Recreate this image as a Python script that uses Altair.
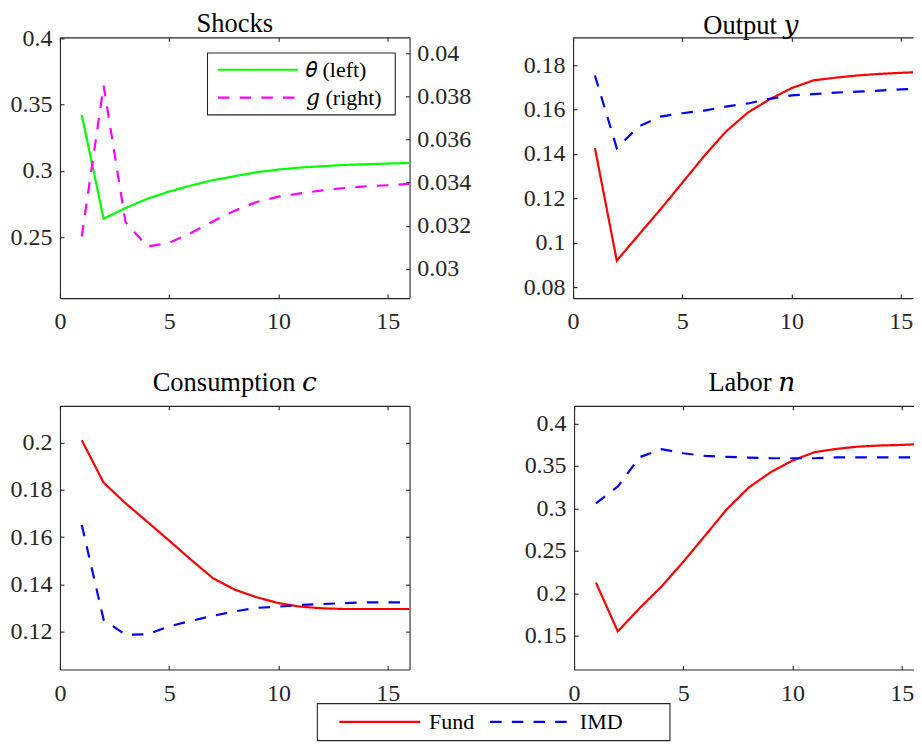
import altair as alt
import pandas as pd

# ---------------- data ----------------
periods = list(range(1, 17))

theta_shock = [0.342, 0.264, 0.272, 0.279, 0.2845, 0.289, 0.293, 0.296,
               0.299, 0.301, 0.3025, 0.3035, 0.3045, 0.305, 0.3055, 0.306]
g_shock = [0.0315, 0.0385, 0.03217, 0.03104, 0.0312, 0.03166, 0.0322, 0.0327,
           0.0331, 0.03335, 0.0335, 0.03364, 0.03375, 0.03383, 0.03388, 0.03394]

output_fund = [0.1426, 0.0919, 0.1035, 0.115, 0.127, 0.139, 0.1501, 0.1586,
               0.1646, 0.1696, 0.1731, 0.1743, 0.1753, 0.1760, 0.1765, 0.1769]
output_imd = [0.1753, 0.1426, 0.1523, 0.1568, 0.1583, 0.1595, 0.1613, 0.1627,
              0.1648, 0.1663, 0.1669, 0.1676, 0.1680, 0.1685, 0.1690, 0.1696]

cons_fund = [0.2011, 0.1831, 0.1744, 0.1665, 0.1585, 0.1504, 0.1426, 0.1377,
             0.1345, 0.1320, 0.1305, 0.1298, 0.1295, 0.1295, 0.1295, 0.1295]
cons_imd = [0.1651, 0.1249, 0.1186, 0.1188, 0.1221, 0.1245, 0.1266, 0.1285,
            0.1300, 0.1305, 0.1312, 0.1316, 0.1320, 0.1323, 0.1323, 0.1323]

labor_fund = [0.2125, 0.155, 0.1824, 0.2078, 0.237, 0.268, 0.2992, 0.3246,
              0.3426, 0.3563, 0.3661, 0.3700, 0.3727, 0.3740, 0.3747, 0.3758]
labor_imd = [0.3059, 0.3256, 0.3602, 0.3696, 0.3649, 0.3617, 0.3606, 0.3598,
             0.3590, 0.3590, 0.3590, 0.3600, 0.3600, 0.3600, 0.3600, 0.3600]

shock_labels = ["\U0001D703 (left)", "\U0001D454 (right)"]
series_labels = ["Fund", "IMD"]
panel_titles = ["Shocks", "Output \U0001D466", "Consumption \U0001D450", "Labor \U0001D45B"]

x_ticks = [0, 5, 10, 15]
theta_ticks = [0.25, 0.3, 0.35, 0.4]
g_ticks = [0.03, 0.032, 0.034, 0.036, 0.038, 0.04]
output_ticks = [0.08, 0.1, 0.12, 0.14, 0.16, 0.18]
cons_ticks = [0.12, 0.14, 0.16, 0.18, 0.2]
labor_ticks = [0.15, 0.2, 0.25, 0.3, 0.35, 0.4]

# ---------------- style / layout ----------------
FONT = "Liberation Serif, DejaVu Serif"
AX = "#262626"
W = 350
H1, H2 = 261, 264
W_R = 340.3                    # right column is cut by the window edge
X_MAX_R = 16 * W_R / W
LW = 2.2
DASH = [11.5, 10.2]
SP_V = 8.9
E1, E2 = 62.4, 36
DX_R = 7.85


def frame(a, b, names):
    return pd.DataFrame({"period": periods + periods, "value": a + b,
                         "series": [names[0]] * len(a) + [names[1]] * len(b)})


def one(a, name):
    return pd.DataFrame({"period": periods, "value": a, "series": [name] * len(a)})


def lab_axis(orient, values, extent, pad):
    return alt.Axis(orient=orient, values=values, format="~g", ticks=False, tickSize=0,
                    domain=True, domainColor=AX, domainWidth=1.1, labels=True,
                    labelFont=FONT, labelFontSize=24, labelColor=AX, labelPadding=pad,
                    labelFlush=False, labelOverlap=False, labelBound=False,
                    minExtent=extent, maxExtent=extent, grid=False, title=None)


def tick_axis(orient, values, offset, domain=False):
    return alt.Axis(orient=orient, values=values, offset=offset, labels=False,
                    ticks=True, tickSize=4, tickColor=AX, tickWidth=1.1,
                    domain=domain, domainColor=AX, domainWidth=1.1, grid=False,
                    title=None, minExtent=0, maxExtent=0)


def title(text, off, dx=0):
    return alt.TitleParams(text, font=FONT, fontSize=26.5, fontWeight="normal",
                           color="black", anchor="middle", frame="group",
                           baseline="top", offset=off, dx=dx)


bottom_legend = alt.Legend(title=" ", titleOrient="right", titlePadding=40,
                           titleFontSize=22, titleFont=FONT,
                           orient="none", legendX=257.3, legendY=666.6,
                           direction="horizontal", padding=7, strokeColor=AX,
                           fillColor="white", symbolType="M-4,0H4", symbolSize=410,
                           symbolStrokeWidth=LW, symbolOffset=44.4, labelOffset=37.75,
                           columnPadding=0,
                           labelFont=FONT, labelFontSize=22, labelColor="black",
                           symbolOpacity=1, labelLimit=0)


def std_panel(df, ydom, yticks, ttl, width, height, xmax, right_col, ext_x, off, legend):
    xs = alt.Scale(domain=[0, xmax], nice=False, zero=False)
    ys = alt.Scale(domain=ydom, nice=False, zero=False)
    color = alt.Color("series:N", scale=alt.Scale(domain=series_labels,
                      range=["#ff0000", "#0000ff"]), legend=legend)
    dash = alt.StrokeDash("series:N", scale=alt.Scale(domain=series_labels,
                          range=[[1, 0], DASH]), legend=legend)
    base = alt.Chart(df)
    l1 = base.mark_line(strokeWidth=LW, clip=True).encode(
        x=alt.X("period:Q", scale=xs, axis=lab_axis("bottom", x_ticks, ext_x, 11.5)),
        y=alt.Y("value:Q", scale=ys, axis=lab_axis("left", yticks, 52, 8)),
        color=color, strokeDash=dash)
    l2 = base.mark_line(strokeOpacity=0, clip=True).encode(
        x=alt.X("period:Q", scale=xs, axis=tick_axis("top", x_ticks, -height)),
        y=alt.Y("value:Q", scale=ys, axis=tick_axis("right", yticks, -width)),
        detail="series:N")
    l3 = base.mark_line(strokeOpacity=0, clip=True).encode(
        x=alt.X("period:Q", scale=xs, axis=tick_axis("bottom", x_ticks, -height, True)),
        y=alt.Y("value:Q", scale=ys,
                axis=None if right_col else tick_axis("left", yticks, -width, True)),
        detail="series:N")
    return alt.layer(l1, l2, l3).resolve_axis(x="independent", y="independent").properties(
        width=width, height=height, title=title(ttl, off, DX_R if right_col else 0))


# ---------------- shocks panel (two y scales) ----------------
shock_legend = alt.Legend(title=" ", titleOrient="right", titlePadding=7.1,
                          titleFontSize=22, titleFont=FONT,
                          orient="none", legendX=147.3, legendY=15.2,
                          direction="vertical", padding=5.7, strokeColor=AX,
                          fillColor="white", symbolType="M-4,0H4", symbolSize=400,
                          symbolStrokeWidth=LW, symbolOffset=33.7, labelOffset=36.6,
                          labelFont=FONT, labelFontSize=22, labelColor="black",
                          rowPadding=5, symbolOpacity=1, labelLimit=0)
s_color = alt.Color("series:N", scale=alt.Scale(domain=shock_labels,
                    range=["#00ff00", "#ff00ff"]), legend=shock_legend)
s_dash = alt.StrokeDash("series:N", scale=alt.Scale(domain=shock_labels,
                        range=[[1, 0], DASH]), legend=shock_legend)
xs0 = alt.Scale(domain=[0, 16], nice=False, zero=False)
ts = alt.Scale(domain=[0.20425, 0.4005], nice=False, zero=False)
gs = alt.Scale(domain=[0.028642, 0.040742], nice=False, zero=False)
theta_df = one(theta_shock, shock_labels[0])
g_df = one(g_shock, shock_labels[1])

sA = alt.Chart(theta_df).mark_line(strokeWidth=LW, clip=True).encode(
    x=alt.X("period:Q", scale=xs0, axis=lab_axis("bottom", x_ticks, E1, 11.5)),
    y=alt.Y("value:Q", scale=ts, axis=lab_axis("left", theta_ticks, 52, 8)),
    color=s_color, strokeDash=s_dash)
sB = alt.Chart(theta_df).mark_line(strokeOpacity=0, clip=True).encode(
    x=alt.X("period:Q", scale=xs0, axis=tick_axis("top", x_ticks, -H1)),
    y=alt.Y("value:Q", scale=ts, axis=tick_axis("right", theta_ticks, -W)))
sC = alt.Chart(g_df).mark_line(strokeWidth=LW, clip=True).encode(
    x=alt.X("period:Q", scale=xs0, axis=tick_axis("bottom", x_ticks, -H1, True)),
    y=alt.Y("value:Q", scale=gs, axis=lab_axis("right", g_ticks, 62, 7.3)),
    color=s_color, strokeDash=s_dash)
sD = alt.Chart(g_df).mark_line(strokeOpacity=0, clip=True).encode(
    x=alt.X("period:Q", scale=xs0, axis=None),
    y=alt.Y("value:Q", scale=gs, axis=tick_axis("left", g_ticks, -W)))
shocks = alt.layer(sA, sB, sC, sD).resolve_scale(y="independent").resolve_axis(
    x="independent", y="independent").properties(width=W, height=H1,
                                                 title=title(panel_titles[0], -11.7))

output = std_panel(frame(output_fund, output_imd, series_labels), [0.07505, 0.19246],
                   output_ticks, panel_titles[1], W_R, H1, X_MAX_R, True, E1, -2.6, None)
cons = std_panel(frame(cons_fund, cons_imd, series_labels), [0.1038, 0.2157],
                 cons_ticks, panel_titles[2], W, H2, 16, False, E2, 8.6, bottom_legend)
labor = std_panel(frame(labor_fund, labor_imd, series_labels), [0.110, 0.4207],
                  labor_ticks, panel_titles[3], W_R, H2, X_MAX_R, True, E2, 8.6, bottom_legend)

indep = dict(x="independent", y="independent", color="independent", strokeDash="independent")
shared = dict(x="independent", y="independent", color="shared", strokeDash="shared")
row1 = alt.hconcat(shocks, output, spacing=49.7).resolve_scale(**indep)
row2 = alt.hconcat(cons, labor, spacing=111.7).resolve_scale(**shared)

chart = alt.vconcat(row1, row2, spacing=SP_V).resolve_scale(**shared).properties(
    padding={"left": 0, "top": 2, "right": 0, "bottom": 0}
).configure_view(stroke=None).configure_legend(strokeWidth=1.1)

chart.save("out.html", embed_options={"renderer": "svg", "actions": False})
